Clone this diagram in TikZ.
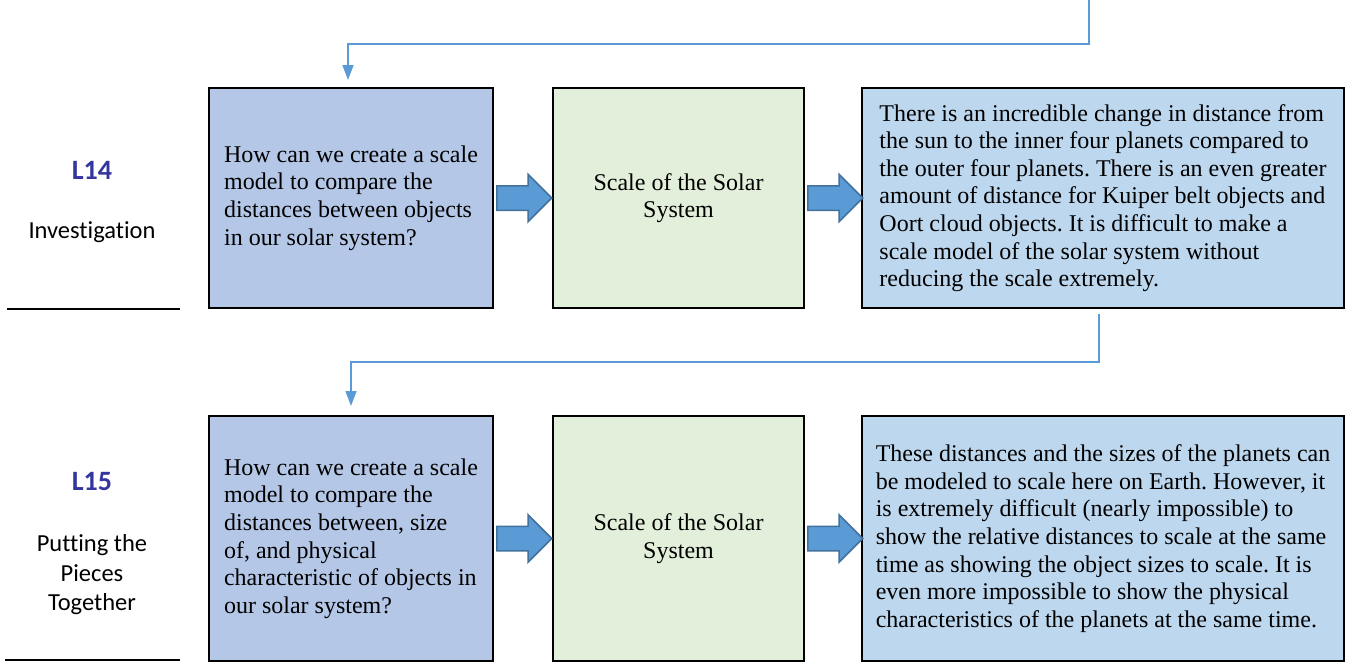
\documentclass[tikz,border=0pt]{standalone}
\usepackage{fontspec}
\setmainfont{Liberation Serif}
\newfontfamily\calibri[Ligatures={NoCommon}]{Carlito}
\usetikzlibrary{shapes.arrows,arrows.meta}
\frenchspacing

\definecolor{qfill}{HTML}{B4C7E7}
\definecolor{tfill}{HTML}{E2EFDA}
\definecolor{afill}{HTML}{BDD7EE}
\definecolor{flowblue}{HTML}{5B9BD5}
\definecolor{flowedge}{HTML}{41719C}
\definecolor{lessonblue}{HTML}{3535A0}

\tikzset{
  box/.style={draw=black, line width=2pt, rectangle, inner sep=0pt, minimum height=220pt,
    align=left, font=\fontsize{24}{27.6}\selectfont},
  qbox/.style={box, fill=qfill, minimum width=284pt},
  tbox/.style={box, fill=tfill, minimum width=251pt, align=center},
  abox/.style={box, fill=afill, minimum width=482pt},
  flow/.style={single arrow, draw=flowedge, fill=flowblue, line width=1.5pt, anchor=west,
    inner xsep=0pt, inner ysep=11.5pt, minimum height=55pt, single arrow head extend=11.5pt},
  link/.style={draw=flowblue, line width=1.6pt, -{Triangle[length=15pt,width=11pt]}},
  lesson/.style={font=\calibri\bfseries\fontsize{28}{32}\selectfont, text=lessonblue},
  phase/.style={font=\calibri\fontsize{24.5}{29.5}\selectfont, align=center},
}

\begin{document}
\begin{tikzpicture}[x=1pt, y=-1pt]
\useasboundingbox (0,0) rectangle (1351,662);

% row L14
\node[lesson] (l14) at (92,170) {L14};
\node[phase] (p14) at (92,232) {Investigation};
\draw[line width=2pt] (7,309) -- (180,309);

\node[qbox] (q1) at (351,198) {How can we create a scale\\ model to compare the\\ distances between objects\\ in our solar system?};
\node[tbox] (t1) at (678.5,198) {Scale of the Solar\\ System};
\node[abox] (a1) at (1103,198) {There is an incredible change in distance from\\ the sun to the inner four planets compared to\\ the outer four planets. There is an even greater\\ amount of distance for Kuiper belt objects and\\ Oort cloud objects. It is difficult to make a\\ scale model of the solar system without\\ reducing the scale extremely.};

% row L15
\node[lesson] (l15) at (92,481) {L15};
\node[phase] (p15) at (92,575) {Putting the\\ Pieces\\ Together};
\draw[line width=2pt] (5,660) -- (180,660);

\node[qbox, minimum height=245pt] (q2) at (351,538.5) {How can we create a scale\\ model to compare the\\ distances between, size\\ of, and physical\\ characteristic of objects in\\ our solar system?};
\node[tbox, minimum height=245pt] (t2) at (678.5,538.5) {Scale of the Solar\\ System};
\node[abox, minimum height=245pt] (a2) at (1103,538.5) {These distances and the sizes of the planets can\\ be modeled to scale here on Earth. However, it\\ is extremely difficult (nearly impossible) to\\ show the relative distances to scale at the same\\ time as showing the object sizes to scale. It is\\ even more impossible to show the physical\\ characteristics of the planets at the same time.};

% block arrows
\foreach \i in {q1,t1,q2,t2}{
  \node[flow] at ([xshift=2pt]\i.east) {};
}

% connectors
\coordinate (in1) at (1089,0);
\draw[link, shorten >=7pt] (in1) -- ++(0,44) -| ([xshift=-3pt]q1.north);
\draw[link, shorten <=5pt, shorten >=9pt] ([xshift=-4pt]a1.south) -- ++(0,53) -| (q2.north);
\end{tikzpicture}
\end{document}
